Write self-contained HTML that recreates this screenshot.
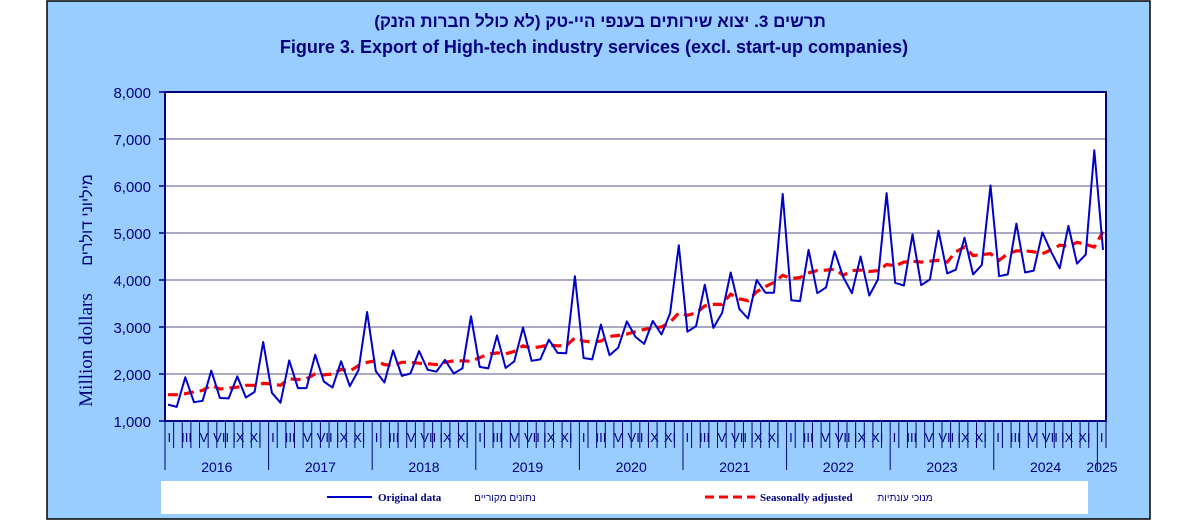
<!DOCTYPE html>
<html><head><meta charset="utf-8"><style>
html,body{margin:0;padding:0;background:#fff;}
svg{display:block;}
</style></head><body>
<svg id="s" width="1200" height="521" xmlns="http://www.w3.org/2000/svg" font-family="Liberation Sans, sans-serif">
<rect x="47" y="1" width="1103" height="518" fill="#99CCFF" stroke="#000" stroke-width="1.5"/>
<text x="600" y="27" text-anchor="middle" font-size="17" font-weight="bold" fill="#000080" font-family="Liberation Sans, 'Noto Sans CJK SC', sans-serif" direction="rtl">תרשים 3. יצוא שירותים בענפי היי-טק (לא כולל חברות הזנק)</text>
<text x="594" y="53" text-anchor="middle" font-size="18" font-weight="bold" fill="#000080">Figure 3. Export of High-tech industry services (excl. start-up companies)</text>
<rect x="165" y="92" width="941" height="329" fill="#fff"/>
<g id="grid"></g>
<g id="series"></g>
<rect x="165" y="92" width="941" height="329" fill="none" stroke="#000080" stroke-width="2"/>
<g id="axes"></g>
<text transform="translate(92,350) rotate(-90)" text-anchor="middle" font-size="19" fill="#000080" font-family="Liberation Serif, serif">Million dollars</text>
<text transform="translate(92,220) rotate(-90)" text-anchor="middle" font-size="16" fill="#000080" font-family="Liberation Sans, 'Noto Sans CJK SC', sans-serif">מיליוני דולרים</text>
<rect x="161" y="481" width="927" height="33" fill="#fff"/>
<line x1="327" y1="497" x2="372" y2="497" stroke="#0000CC" stroke-width="2"/>
<text x="378" y="501" font-size="11" font-weight="bold" fill="#000080" font-family="Liberation Serif, serif">Original data</text>
<text x="505" y="501" font-size="10" fill="#000080" text-anchor="middle" font-family="Liberation Sans, 'Noto Sans CJK SC', sans-serif">נתונים מקוריים</text>
<line x1="705" y1="497" x2="755" y2="497" stroke="#FF0000" stroke-width="3" stroke-dasharray="9,5"/>
<text x="760" y="501" font-size="11" font-weight="bold" fill="#000080" font-family="Liberation Serif, serif">Seasonally adjusted</text>
<text x="905" y="501" font-size="10" fill="#000080" text-anchor="middle" font-family="Liberation Sans, 'Noto Sans CJK SC', sans-serif">מנוכי עונתיות</text>
</svg>
<script>
var NS="http://www.w3.org/2000/svg";
function el(p,t,a,txt){var e=document.createElementNS(NS,t);for(var k in a)e.setAttribute(k,a[k]);if(txt!==undefined)e.textContent=txt;document.getElementById(p).appendChild(e);return e;}
function Y(v){return 421-(v-1000)*47/1000;}
for(var v=2000;v<=7000;v+=1000){el("grid","line",{x1:165,x2:1106,y1:Y(v),y2:Y(v),stroke:"#7878A0","stroke-width":1.2});}
for(var v=1000;v<=8000;v+=1000){var y=Y(v);el("axes","line",{x1:159,x2:165,y1:y,y2:y,stroke:"#000080","stroke-width":1.5});
el("axes","text",{x:151,y:y+6,"text-anchor":"end","font-size":15,fill:"#000080"},v.toLocaleString("en-US"));}
var mw=941/109;
var romL={0:"I",2:"III",4:"V",6:"VII",8:"IX",10:"XI"};
for(var k=0;k<=109;k++){var x=165+k*mw;var yr=(k%12==0);
el("axes","line",{x1:x,x2:x,y1:421,y2:yr?470:448,stroke:"#000080","stroke-width":1});}
for(var k=0;k<109;k++){var m=k%12;if(romL[m]!==undefined){var x=165+(k+0.5)*mw;
el("axes","text",{x:x,y:442,"text-anchor":"middle","font-size":13,fill:"#000080"},romL[m]);}}
for(var yI=0;yI<10;yI++){var x=yI<9?165+(yI*12+6)*mw:1102;
el("axes","text",{x:x,y:472,"text-anchor":"middle","font-size":14,fill:"#000080"},String(2016+yI));}
var o=[1350,1300,1930,1400,1430,2070,1490,1480,1950,1500,1620,2680,
1600,1390,2290,1700,1700,2410,1840,1710,2270,1740,2080,3320,
2060,1820,2500,1960,2010,2490,2090,2050,2300,2010,2120,3230,
2150,2120,2820,2130,2270,2990,2280,2310,2730,2450,2440,4080,
2340,2310,3050,2400,2560,3120,2790,2640,3130,2840,3290,4740,
2900,3020,3900,2980,3300,4160,3380,3180,4000,3730,3730,5830,
3570,3550,4640,3720,3840,4610,4060,3720,4500,3670,4010,5850,
3940,3880,4970,3890,4010,5050,4140,4220,4900,4120,4320,6010,
4080,4120,5200,4160,4200,5010,4600,4250,5150,4350,4540,6760,4640];
var s=[1560,1560,1580,1620,1650,1760,1680,1700,1720,1760,1760,1800,
1790,1760,1900,1880,1900,2000,1980,2000,2100,2060,2180,2250,
2280,2200,2180,2250,2250,2230,2220,2200,2250,2280,2280,2270,
2350,2420,2450,2430,2480,2600,2550,2580,2620,2600,2600,2770,
2700,2680,2700,2800,2820,2850,2900,2950,2980,3000,3100,3300,
3250,3300,3450,3480,3480,3700,3600,3560,3750,3860,3950,4100,
4030,4050,4150,4200,4210,4230,4100,4200,4210,4180,4200,4330,
4300,4380,4400,4380,4400,4420,4380,4600,4700,4520,4540,4560,
4420,4560,4620,4620,4600,4560,4640,4740,4720,4800,4760,4700,5030];
function pts(a){return a.map(function(v,i){return (168+i*(1103-168)/108).toFixed(1)+","+Y(v).toFixed(1);}).join(" ");}
el("series","polyline",{points:pts(s),fill:"none",stroke:"#FF0000","stroke-width":3.2,"stroke-dasharray":"10,6"});
el("series","polyline",{points:pts(o),fill:"none",stroke:"#0000CC","stroke-width":2,"stroke-linejoin":"round"});
</script>
</body></html>
